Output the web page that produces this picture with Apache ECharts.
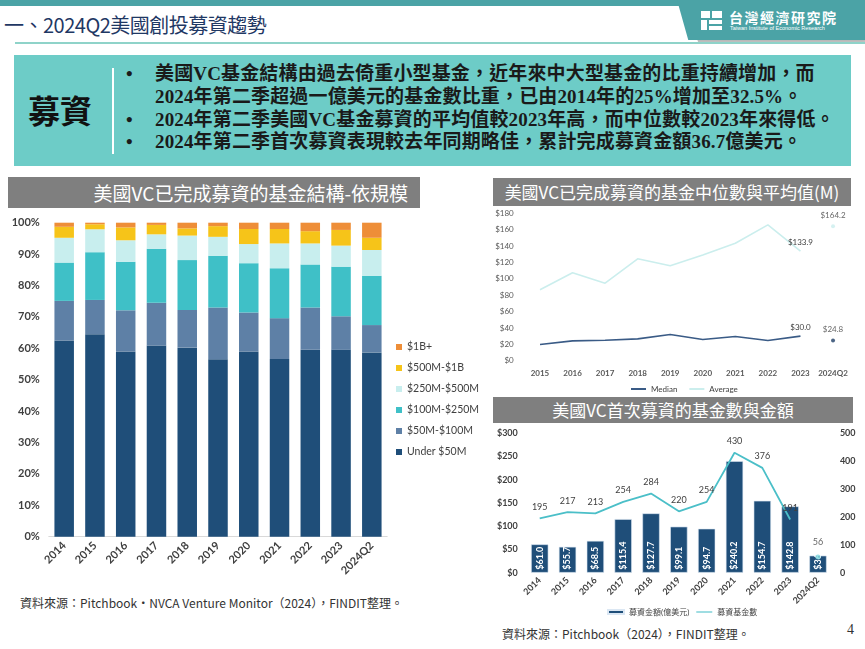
<!DOCTYPE html>
<html><head><meta charset="utf-8">
<script src="https://cdn.jsdelivr.net/npm/echarts@6/dist/echarts.min.js"></script>
<style>
html,body{margin:0;padding:0;background:#fff;}
#page{position:relative;width:865px;height:649px;overflow:hidden;font-family:'Noto Sans CJK TC',sans-serif;}
.abs{position:absolute;}
.gbar{position:absolute;background:#7f7f7f;color:#fff;white-space:nowrap;font-family:'Noto Sans CJK TC',sans-serif;}
.bl{position:absolute;left:155px;font-family:'Liberation Serif','Noto Sans CJK TC',serif;font-weight:bold;font-size:19px;line-height:22.6px;color:#1a1a1a;white-space:nowrap;letter-spacing:0.15px;}
.dot{position:absolute;left:126px;font-family:'Liberation Serif',serif;font-weight:bold;font-size:19px;line-height:22.6px;color:#1a1a1a;}
.src{position:absolute;font-size:12px;color:#333;white-space:nowrap;font-family:'Noto Sans CJK TC',sans-serif;}
</style></head><body>
<div id="page">
  <div class="abs" style="left:0;top:0;width:865px;height:6px;background:#4ba3a6"></div>
  <div class="abs" style="left:686px;top:4px;width:182px;height:40px;background:#b5b5b5;filter:blur(2px);clip-path:polygon(0 0,100% 0,100% 100%,7% 100%)"></div>
  <div class="abs" style="left:677px;top:0;width:188px;height:40px;background:#4ba3a6;clip-path:polygon(0 0,100% 0,100% 100%,6% 100%)"></div>
  <div class="abs" style="left:701px;top:11px;width:9px;height:7px;background:#fff"></div>
  <div class="abs" style="left:712px;top:11px;width:10px;height:7px;background:#fff"></div>
  <div class="abs" style="left:701px;top:20px;width:6px;height:10px;background:#fff"></div>
  <div class="abs" style="left:709px;top:20px;width:13px;height:4px;background:#fff"></div>
  <div class="abs" style="left:709px;top:26px;width:13px;height:4px;background:#fff"></div>
  <div class="abs" style="left:729px;top:7px;color:#fff;font-size:14px;font-weight:bold;letter-spacing:1.5px;white-space:nowrap">台灣經濟研究院</div>
  <div class="abs" style="left:730px;top:25px;color:#fff;font-size:5.5px;white-space:nowrap;font-family:'Liberation Sans',sans-serif">Taiwan Institute of Economic Research</div>
  <div class="abs" style="left:4px;top:10px;color:#1f3864;font-size:20px;white-space:nowrap;letter-spacing:-0.5px">一、2024Q2美國創投募資趨勢</div>
  <div class="abs" style="left:15px;top:42px;width:850px;height:2px;background:#8fd3c9"></div>

  <div class="abs" style="left:14px;top:55px;width:837px;height:111px;background:#6dccc7"></div>
  <div class="abs" style="left:28px;top:89px;font-size:32px;font-weight:bold;color:#111;white-space:nowrap;line-height:40px">募資</div>
  <div class="abs" style="left:112px;top:68px;width:2px;height:86px;background:#fff"></div>
  <div class="dot" style="top:63px">•</div>
  <div class="bl" style="top:63px">美國VC基金結構由過去倚重小型基金，近年來中大型基金的比重持續增加，而</div>
  <div class="bl" style="top:86px">2024年第二季超過一億美元的基金數比重，已由2014年的25%增加至32.5%。</div>
  <div class="dot" style="top:109px">•</div>
  <div class="bl" style="top:109px">2024年第二季美國VC基金募資的平均值較2023年高，而中位數較2023年來得低。</div>
  <div class="dot" style="top:131px">•</div>
  <div class="bl" style="top:131px">2024年第二季首次募資表現較去年同期略佳，累計完成募資金額36.7億美元。</div>

  <div class="gbar" style="left:8px;top:177px;width:400px;height:31px;line-height:31px;font-size:19px;text-align:right;padding-right:12px">美國VC已完成募資的基金結構-依規模</div>
  <div class="gbar" style="left:493px;top:178px;width:358px;height:28px;line-height:28px;font-size:17px;text-align:center">美國VC已完成募資的基金中位數與平均值(M)</div>
  <div class="gbar" style="left:493px;top:397px;width:360px;height:26px;line-height:26px;font-size:17px;text-align:center">美國VC首次募資的基金數與金額</div>

  <div class="src" style="left:20px;top:594px">資料來源：Pitchbook‧NVCA Venture Monitor（2024），FINDIT整理。</div>
  <div class="src" style="left:502px;top:625px">資料來源：Pitchbook（2024），FINDIT整理。</div>
  <div class="abs" style="left:847px;top:622px;font-size:14px;color:#333;font-family:'Liberation Serif',serif">4</div>

  <div id="chart" class="abs" style="left:0;top:0;width:865px;height:649px"></div>
</div>
<script>
// ---- Chart 1: fund structure by size (%)
const sizeCats = ['2014','2015','2016','2017','2018','2019','2020','2021','2022','2023','2024Q2'];
const under50M   = [62.5,64.5,59.0,60.9,60.2,56.5,59.0,56.6,59.5,59.5,58.7];
const m50to100   = [12.6,10.9,13.1,13.6,12.0,16.5,12.4,13.0,13.5,10.7,8.7];
const m100to250  = [12.2,15.2,15.5,17.2,15.9,16.5,15.7,15.9,13.7,15.8,15.7];
const m250to500  = [7.9,7.3,6.8,4.6,7.8,6.0,6.1,7.9,6.7,6.7,8.2];
const m500to1B   = [3.5,1.6,4.1,3.0,2.3,3.4,4.8,4.6,3.9,5.0,3.9];
const over1B     = [1.3,0.5,1.5,0.7,1.8,1.1,2.0,2.0,2.7,2.3,4.8];
const sizeNames  = ['Under $50M','$50M-$100M','$100M-$250M','$250M-$500M','$500M-$1B','$1B+'];

// ---- Chart 2: median & average fund size ($M)
const medCats     = ['2015','2016','2017','2018','2019','2020','2021','2022','2023','2024Q2'];
const medianVals  = [19.8,24.2,25.0,26.7,31.9,25.9,29.5,24.6,30.0,null];
const averageVals = [86.6,107.3,94.7,124.4,115.9,129.0,143.5,165.9,133.9,null];
const medianQ2    = [null,null,null,null,null,null,null,null,null,24.8];
const averageQ2   = [null,null,null,null,null,null,null,null,null,164.2];

// ---- Chart 3: first-time funds
const firstCats    = ['2014','2015','2016','2017','2018','2019','2020','2021','2022','2023','2024Q2'];
const firstAmount  = [61.0,55.7,68.5,115.4,127.7,99.1,94.7,240.2,154.7,142.8,36.7];
const firstCount   = [195,217,213,254,284,220,254,430,376,191,null];
const firstCountQ2 = [null,null,null,null,null,null,null,null,null,null,56];

const sizeColors = ['#1f4e79','#5e80a6','#3fc0c7','#c8eeee','#f6c419','#ee8e38'];
const sizeData = [under50M,m50to100,m100to250,m250to500,m500to1B,over1B];
const txt = '#404040';
const FF = "Lato, 'Noto Sans CJK TC', sans-serif";

const chart = echarts.init(document.getElementById('chart'), null, {renderer:'canvas'});
const series = [];
sizeData.forEach((d,i)=>{
  series.push({name:sizeNames[i], type:'bar', stack:'size', xAxisIndex:0, yAxisIndex:0,
    data:d, barWidth:19.5, itemStyle:{color:sizeColors[i]}});
});
const lab2 = (idx)=>({show:true, position:'top', distance:5, fontSize:8, color:txt, fontFamily:FF,
  formatter:p=> (p.dataIndex===idx && p.value!=null) ? '$'+Number(p.value).toFixed(1) : ''});
series.push({name:'Median', type:'line', xAxisIndex:1, yAxisIndex:1, data:medianVals, symbol:'circle', symbolSize:0.1,
  showSymbol:true, lineStyle:{color:'#3a5b86', width:1.6}, itemStyle:{color:'#3a5b86'}, label:lab2(8)});
series.push({name:'Average', type:'line', xAxisIndex:1, yAxisIndex:1, data:averageVals, symbol:'circle', symbolSize:0.1,
  showSymbol:true, lineStyle:{color:'#cbeeed', width:1.6}, itemStyle:{color:'#cbeeed'}, label:lab2(8)});
series.push({name:'Median2024Q2', type:'scatter', xAxisIndex:1, yAxisIndex:1, data:medianQ2, symbolSize:4,
  itemStyle:{color:'#1f3f66'}, label:lab2(9)});
series.push({name:'Average2024Q2', type:'scatter', xAxisIndex:1, yAxisIndex:1, data:averageQ2, symbolSize:4,
  itemStyle:{color:'#cbeeed'}, label:lab2(9)});
series.push({name:'募資金額(億美元)', type:'bar', xAxisIndex:2, yAxisIndex:2, data:firstAmount, barWidth:17.3,
  itemStyle:{color:'#1f4e79', borderColor:'#dbe7f3', borderWidth:0.6},
  label:{show:true, position:'insideBottom', rotate:90, align:'left', verticalAlign:'middle', distance:3,
    color:'#fff', fontSize:9, fontWeight:'bold', fontFamily:FF, formatter:p=>'$'+p.value.toFixed(1)}});
series.push({name:'募資基金數', type:'line', xAxisIndex:2, yAxisIndex:3, data:firstCount, symbol:'circle', symbolSize:0.1,
  showSymbol:true, lineStyle:{color:'#4bbfc8', width:1.8}, itemStyle:{color:'#4bbfc8'},
  label:{show:true, position:'top', distance:7, fontSize:9, color:txt, fontFamily:FF}});
series.push({name:'募資基金數Q2', type:'scatter', xAxisIndex:2, yAxisIndex:3, data:firstCountQ2, symbolSize:5,
  itemStyle:{color:'#7fd8de'}, label:{show:true, position:'top', distance:8, fontSize:9, color:txt, fontFamily:FF}});

chart.setOption({
  animation:false,
  textStyle:{fontFamily:FF},
  grid:[
    {left:48.8, top:222.7, width:338.4, height:314},
    {left:523.7, top:213.3, width:325.6, height:147.4},
    {left:525.8, top:433.3, width:306.1, height:139.4}
  ],
  xAxis:[
    {type:'category', gridIndex:0, data:sizeCats, axisTick:{show:false},
      axisLine:{lineStyle:{color:'#d9d9d9'}},
      axisLabel:{rotate:45, fontSize:11, fontWeight:'bold', color:txt, margin:7, interval:0}},
    {type:'category', gridIndex:1, data:medCats, axisTick:{show:false}, axisLine:{show:false},
      axisLabel:{fontSize:8, fontWeight:'bold', color:'#595959', margin:9, interval:0}},
    {type:'category', gridIndex:2, data:firstCats, axisTick:{show:false}, axisLine:{show:false},
      axisLabel:{rotate:45, fontSize:9, fontWeight:'bold', color:txt, margin:6, interval:0}}
  ],
  yAxis:[
    {type:'value', gridIndex:0, min:0, max:100, interval:10, splitLine:{show:false}, axisLine:{show:false},
      axisLabel:{formatter:'{value}%', fontSize:11, fontWeight:'bold', color:txt, margin:9}},
    {type:'value', gridIndex:1, min:0, max:180, interval:20, splitLine:{show:false}, axisLine:{show:false},
      axisLabel:{formatter:'${value}', fontSize:8, color:'#595959', margin:10}},
    {type:'value', gridIndex:2, min:0, max:300, interval:50, splitLine:{show:false}, axisLine:{show:false},
      axisLabel:{formatter:'${value}', fontSize:9, fontWeight:'bold', color:txt, margin:8}},
    {type:'value', gridIndex:2, position:'right', min:0, max:500, interval:100, splitLine:{show:false}, axisLine:{show:false},
      axisLabel:{fontSize:9, fontWeight:'bold', color:txt, margin:8}}
  ],
  legend:[
    {orient:'vertical', left:391, top:335, itemWidth:6, itemHeight:6, itemGap:7, icon:'rect',
      data:sizeNames.slice().reverse(), textStyle:{fontSize:10.5, color:txt, lineHeight:14}},
    {left:626, top:380, itemWidth:15, itemHeight:2, itemGap:12, icon:'rect',
      data:['Median','Average'], textStyle:{fontSize:8, color:txt}},
    {left:602, top:603, itemWidth:16, itemHeight:4, itemGap:7,
      data:[{name:'募資金額(億美元)', icon:'rect'},{name:'募資基金數', icon:'path://M0,0L30,0L30,2L0,2Z', itemStyle:{color:'#4bbfc8'}}],
      textStyle:{fontSize:8, color:txt}}
  ],
  series:series
});
</script>
</body></html>
